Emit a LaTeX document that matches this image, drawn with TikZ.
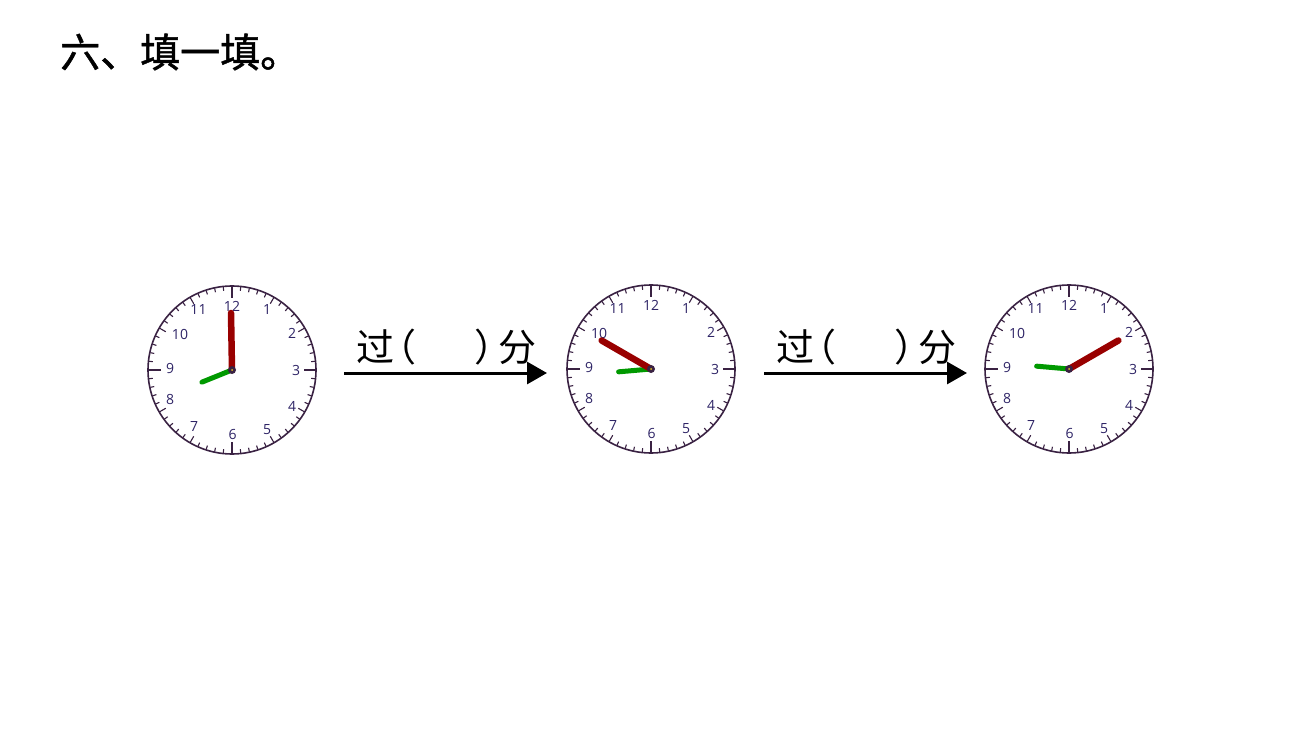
\documentclass[tikz,border=0pt]{standalone}
\usepackage{fontspec}
\setmainfont{Open Sans}
\newfontfamily\cjk{Noto Sans CJK SC}
\newfontfamily\cjkt[FakeBold=1.2]{Noto Sans CJK SC}
\usetikzlibrary{arrows.meta}
\definecolor{rim}{HTML}{3A2243}
\definecolor{numc}{HTML}{2E2466}
\definecolor{minc}{HTML}{990000}
\definecolor{hrc}{HTML}{009900}
\definecolor{dotc}{HTML}{E8C020}
\tikzset{
  clockface/.style={circle, draw=rim, line width=1.6pt, fill=white, minimum size=168pt, inner sep=0pt},
  tickmark/.style={draw=rim, line width=1.1pt},
  numlbl/.style={text=numc, inner sep=0pt, font=\fontsize{14}{14}\selectfont},
  minhand/.style={draw=minc, line width=6.5pt, line cap=round},
  hourhand/.style={draw=hrc, line width=5pt, line cap=round},
  hub/.style={circle, fill=rim, minimum size=8pt, inner sep=0pt},
  lbl/.style={inner sep=0pt, font={\cjk\fontsize{38}{38}\selectfont}},
  arr/.style={draw=black, line width=3pt, -{Triangle[length=20pt,width=22pt]}},
}
\newcommand\drawclock[5]{%
  \node[clockface] (#1) at (#2,#3) {};
  \foreach \i in {0,...,59}{%
    \pgfmathsetmacro\tl{ifthenelse(mod(\i,15)==0,12,ifthenelse(mod(\i,5)==0,7,4))}%
    \draw[tickmark] (#1.center) ++(\i*6:83.5) -- ++(\i*6+180:\tl);
  }
  \node[numlbl] (#1-n12) at ([shift={(0,64)}]#1.center) {12};
  \node[numlbl] (#1-n1) at ([shift={(35,60.5)}]#1.center) {1};
  \node[numlbl] (#1-n2) at ([shift={(60,37)}]#1.center) {2};
  \node[numlbl] (#1-n3) at ([shift={(64,0)}]#1.center) {3};
  \node[numlbl] (#1-n4) at ([shift={(60,-36)}]#1.center) {4};
  \node[numlbl] (#1-n5) at ([shift={(35,-60)}]#1.center) {5};
  \node[numlbl] (#1-n6) at ([shift={(0.5,-64)}]#1.center) {6};
  \node[numlbl] (#1-n7) at ([shift={(-38,-57)}]#1.center) {7};
  \node[numlbl] (#1-n8) at ([shift={(-62,-29)}]#1.center) {8};
  \node[numlbl] (#1-n9) at ([shift={(-62,2)}]#1.center) {9};
  \node[numlbl] (#1-n10) at ([shift={(-52,36)}]#1.center) {10};
  \node[numlbl] (#1-n11) at ([shift={(-33.5,60)}]#1.center) {11};
  \draw[hourhand] (#1.center) -- ++({32.5*sin(#5)},{32.5*cos(#5)});
  \draw[minhand] (#1.center) -- ++({57*sin(#4)},{57*cos(#4)});
  \node[hub] (#1-hub) at (#1.center) {};
  \fill[dotc] (#1.center) circle (1pt);
}
\begin{document}
\begin{tikzpicture}[x=1pt,y=1pt]
  \useasboundingbox[fill=white] (0,0) rectangle (1300,740);
  \node[anchor=west, inner sep=0pt, font={\cjkt\fontsize{40}{40}\selectfont}] (title) at (60,688) {六、填一填。};
  \drawclock{c1}{232}{370}{-1}{248}
  \drawclock{c2}{651}{371}{300}{265}
  \drawclock{c3}{1069}{371}{60}{275}
  \node[lbl, anchor=west] (l1) at (356,393) {过\hspace{-16pt}（\hspace{58pt}）\hspace{-14pt}分};
  \node[lbl, anchor=west] (l2) at (776,393) {过\hspace{-16pt}（\hspace{58pt}）\hspace{-14pt}分};
  \coordinate (a1s) at (344,367);
  \coordinate (a1e) at (547,367);
  \coordinate (a2s) at (764,367);
  \coordinate (a2e) at (967,367);
  \draw[arr] (a1s) -- (a1e);
  \draw[arr] (a2s) -- (a2e);
\end{tikzpicture}
\end{document}
